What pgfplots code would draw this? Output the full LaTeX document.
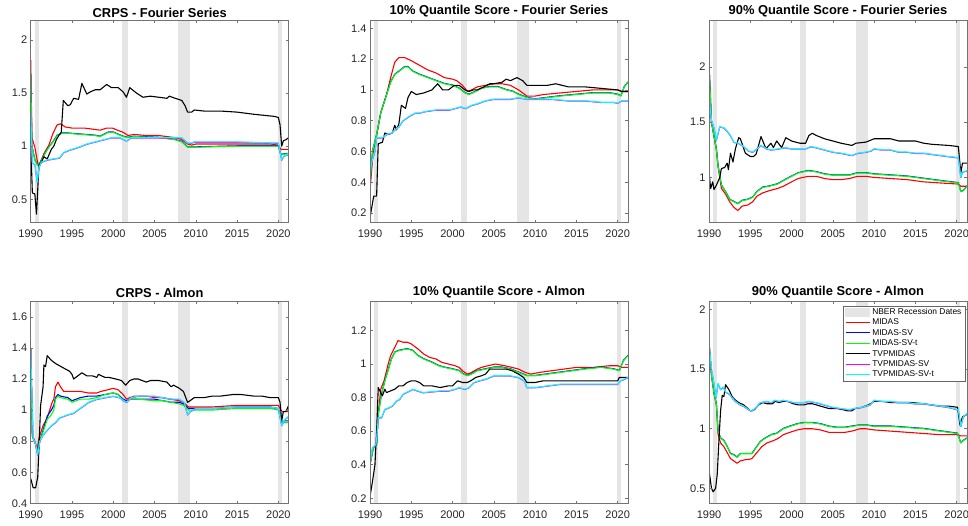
\documentclass[border=0pt]{standalone}
\usepackage{fontspec}
\setmainfont{Liberation Sans}
\usepackage{pgfplots}
\usepackage{pgfplotstable}
\pgfplotsset{compat=1.18}
\definecolor{bandc}{rgb}{0.9,0.9,0.9}
\definecolor{axc}{rgb}{0.15,0.15,0.15}
\definecolor{mgreen}{rgb}{0,1,0}
\definecolor{mred}{rgb}{1,0,0}
\definecolor{mblue}{rgb}{0,0,1}
\definecolor{mcyan}{rgb}{0,1,1}
\definecolor{mmag}{rgb}{1,0,1}

% ---------------- Panel A: CRPS - Fourier Series
\pgfplotstableread[row sep=\\]{x y\\1990 1.81\\1990.15 1.08\\1990.5 0.99\\1990.85 0.84\\1991 0.82\\1991.6 0.93\\1992.2 1.01\\1992.7 1.12\\1993.2 1.2\\1993.6 1.21\\1994.2 1.18\\1995 1.17\\1995.8 1.17\\1996.5 1.17\\1997.5 1.16\\1998.4 1.15\\1999.2 1.17\\1999.9 1.17\\2000.5 1.15\\2001.2 1.13\\2001.8 1.10\\2002.5 1.11\\2004 1.10\\2005.5 1.10\\2006.5 1.09\\2007.5 1.08\\2008 1.07\\2008.5 1.05\\2009 1.02\\2009.5 1.01\\2010 1.02\\2015 1.02\\2019 1.02\\2020 1.01\\2020.3 0.97\\2021.25 0.97\\}\pAr
\pgfplotstableread[row sep=\\]{x y\\1990 1.68\\1990.15 1.0\\1990.5 0.87\\1990.85 0.82\\1991 0.82\\1991.8 0.94\\1992.2 0.99\\1992.7 1.04\\1993.2 1.10\\1993.8 1.12\\1994.6 1.12\\1996.2 1.11\\1997.8 1.10\\1998.4 1.09\\1999.4 1.13\\2000 1.13\\2001.2 1.09\\2001.8 1.08\\2002.5 1.09\\2005.5 1.08\\2007.5 1.06\\2008.3 1.04\\2009 0.99\\2010 0.99\\2015 1.0\\2020 1.0\\2020.3 0.92\\2021.25 0.93\\}\pAg
\pgfplotstableread[row sep=\\]{x y\\1990 1.04\\1990.2 0.56\\1990.5 0.55\\1990.7 0.36\\1991 0.82\\1991.3 0.85\\1991.6 0.9\\1992 0.88\\1992.5 0.97\\1992.8 1.0\\1993.1 1.06\\1993.4 1.1\\1993.7 1.13\\1993.95 1.43\\1994.5 1.38\\1994.8 1.39\\1995.2 1.45\\1995.8 1.44\\1996.2 1.59\\1996.8 1.49\\1997.2 1.51\\1997.8 1.53\\1998.4 1.53\\1999.2 1.58\\1999.8 1.55\\2000.6 1.55\\2001.2 1.51\\2001.6 1.46\\2002 1.55\\2002.8 1.50\\2003.6 1.46\\2004.5 1.47\\2005.5 1.46\\2006.5 1.45\\2006.8 1.47\\2007.5 1.45\\2008.3 1.43\\2008.7 1.38\\2009 1.32\\2009.5 1.32\\2009.8 1.34\\2011 1.33\\2013 1.33\\2015 1.32\\2017 1.30\\2019.5 1.28\\2020 1.27\\2020.2 1.2\\2020.4 1.0\\2020.6 1.05\\2020.9 1.06\\2021.25 1.08\\}\pAk
\pgfplotstableread[row sep=\\]{x y\\1990 1.33\\1990.2 0.84\\1990.5 0.83\\1990.8 0.66\\1991 0.8\\1991.3 0.85\\1992 0.87\\1993.5 0.89\\1994 0.94\\1994.6 0.96\\1995.8 0.99\\1996.8 1.02\\1997.8 1.04\\1998.8 1.06\\1999.8 1.08\\2000.8 1.08\\2001.6 1.05\\2002.2 1.08\\2005.5 1.08\\2007.5 1.08\\2008.3 1.08\\2009 1.03\\2009.5 1.03\\2009.8 1.04\\2015 1.04\\2020 1.03\\2020.4 0.87\\2020.7 0.91\\2021.25 0.92\\}\pAc

% ---------------- Panel B: 10% Quantile Score - Fourier Series
\pgfplotstableread[row sep=\\]{x y\\1990 0.35\\1990.4 0.6\\1990.8 0.7\\1991.3 0.85\\1992 0.97\\1992.6 1.1\\1993 1.18\\1993.5 1.21\\1994.2 1.21\\1995 1.19\\1996 1.16\\1997 1.13\\1998 1.11\\1999 1.08\\2000 1.07\\2000.5 1.06\\2001.2 1.03\\2001.8 0.99\\2002.3 1.0\\2003 1.02\\2004 1.03\\2005 1.04\\2006 1.04\\2007 1.03\\2008 1.0\\2009 0.96\\2010 0.96\\2011 0.97\\2013 0.98\\2015 0.99\\2017 1.0\\2019 1.0\\2020 1.0\\2020.5 0.99\\2021.25 0.99\\}\pBr
\pgfplotstableread[row sep=\\]{x y\\1990 0.38\\1990.3 0.6\\1990.8 0.71\\1991.3 0.85\\1991.9 0.95\\1992.5 1.05\\1993 1.1\\1993.5 1.12\\1994.2 1.15\\1994.6 1.15\\1995.2 1.12\\1996 1.1\\1997 1.08\\1998 1.06\\1999 1.04\\2000 1.03\\2000.8 1.01\\2001.5 0.98\\2002 0.97\\2002.8 0.99\\2003.5 1.01\\2004.5 1.02\\2005.5 1.02\\2006.5 1.0\\2007.3 0.99\\2008 0.97\\2009 0.95\\2010 0.94\\2011.5 0.95\\2013 0.96\\2015 0.97\\2017 0.98\\2019 0.98\\2020 0.97\\2020.4 0.96\\2020.8 1.02\\2021.25 1.05\\}\pBg
\pgfplotstableread[row sep=\\]{x y\\1990 0.17\\1990.45 0.31\\1990.8 0.31\\1991 0.65\\1991.5 0.66\\1991.8 0.72\\1992.2 0.71\\1992.7 0.72\\1993 0.77\\1993.2 0.74\\1993.5 0.78\\1993.8 0.9\\1994.3 0.88\\1994.6 0.95\\1995 0.99\\1995.6 0.97\\1996.5 0.98\\1997.5 1.0\\1998.2 1.04\\1998.8 1.0\\1999.5 1.0\\2000.2 1.03\\2000.8 1.03\\2001.5 1.0\\2002 0.99\\2002.5 1.0\\2003 1.0\\2003.8 1.02\\2004.5 1.04\\2005 1.04\\2006 1.05\\2006.5 1.07\\2007 1.06\\2007.8 1.08\\2008.5 1.06\\2009 1.03\\2010 1.03\\2011.5 1.03\\2012.5 1.04\\2014 1.02\\2016 1.02\\2018 1.01\\2020 1.0\\2020.5 0.99\\2021.25 0.99\\}\pBk
\pgfplotstableread[row sep=\\]{x y\\1990 0.47\\1990.3 0.55\\1990.6 0.6\\1990.8 0.69\\1991.5 0.69\\1992 0.71\\1992.6 0.72\\1993 0.74\\1993.5 0.76\\1994 0.8\\1994.8 0.83\\1995.5 0.85\\1996 0.85\\1996.7 0.86\\1998 0.87\\1999 0.87\\1999.6 0.87\\2000.3 0.88\\2001 0.89\\2001.6 0.88\\2002.3 0.9\\2003 0.91\\2004 0.93\\2005 0.94\\2006 0.94\\2007 0.94\\2008 0.95\\2009 0.94\\2010 0.94\\2012 0.94\\2014 0.93\\2016 0.93\\2018 0.92\\2019.5 0.92\\2020 0.915\\2020.5 0.93\\2021.25 0.93\\}\pBc

% ---------------- Panel C: 90% Quantile Score - Fourier Series
\pgfplotstableread[row sep=\\]{x y\\1990 2.02\\1990.3 1.5\\1990.9 1.25\\1991.1 1.1\\1991.5 0.9\\1992 0.85\\1992.5 0.78\\1993 0.73\\1993.5 0.7\\1994 0.74\\1994.7 0.75\\1995.3 0.78\\1995.8 0.83\\1996.5 0.86\\1997.3 0.88\\1998.3 0.9\\1999 0.92\\2000 0.96\\2000.8 0.99\\2002 1.01\\2003 1.01\\2004 0.99\\2005 0.98\\2006 0.98\\2007 0.99\\2008 1.01\\2009 1.01\\2010 1.0\\2012 0.99\\2014 0.98\\2016 0.96\\2018 0.95\\2020.2 0.94\\2020.5 0.92\\2021.25 0.92\\}\pCr
\pgfplotstableread[row sep=\\]{x y\\1990 2.02\\1990.3 1.5\\1990.9 1.25\\1991.1 1.1\\1991.5 0.93\\1992 0.87\\1992.5 0.8\\1993 0.78\\1993.5 0.76\\1994 0.79\\1994.7 0.8\\1995.3 0.82\\1995.8 0.87\\1996.5 0.91\\1997.3 0.92\\1998.3 0.94\\1999 0.97\\2000 1.01\\2000.8 1.04\\2002 1.06\\2003 1.05\\2004 1.03\\2005 1.02\\2006 1.02\\2007 1.02\\2008 1.04\\2009 1.04\\2010 1.03\\2012 1.02\\2014 1.01\\2016 0.99\\2018 0.97\\2020.2 0.95\\2020.5 0.87\\2020.8 0.88\\2021.25 0.92\\}\pCg
\pgfplotstableread[row sep=\\]{x y\\1990 1.05\\1990.2 0.9\\1990.45 0.96\\1990.6 0.89\\1990.9 0.93\\1991.3 1.0\\1991.5 1.08\\1991.9 1.09\\1992.2 1.13\\1992.35 1.07\\1992.6 1.22\\1992.9 1.14\\1993.2 1.26\\1993.6 1.36\\1993.8 1.35\\1994.4 1.22\\1995 1.19\\1995.4 1.19\\1995.7 1.21\\1996.3 1.37\\1996.9 1.26\\1997.5 1.31\\1997.8 1.27\\1998.2 1.33\\1998.8 1.27\\1999.3 1.36\\2000 1.33\\2001 1.31\\2001.7 1.31\\2002.1 1.38\\2002.5 1.4\\2003 1.38\\2004 1.35\\2005 1.33\\2006 1.31\\2007.3 1.29\\2007.8 1.31\\2009 1.32\\2010 1.35\\2011 1.35\\2012 1.35\\2013 1.33\\2015 1.33\\2016 1.31\\2017 1.30\\2019 1.29\\2020.2 1.28\\2020.5 1.04\\2020.7 1.13\\2021.25 1.13\\}\pCk
\pgfplotstableread[row sep=\\]{x y\\1990 1.72\\1990.3 1.52\\1990.6 1.45\\1990.9 1.34\\1991.3 1.46\\1991.8 1.45\\1992.2 1.42\\1992.6 1.38\\1993 1.32\\1993.6 1.31\\1994.2 1.28\\1994.8 1.24\\1995.3 1.23\\1995.8 1.26\\1996.3 1.29\\1997 1.26\\1997.5 1.25\\1998.5 1.26\\1999.2 1.27\\2000 1.26\\2001 1.26\\2001.7 1.26\\2002.3 1.28\\2003 1.27\\2004 1.25\\2005 1.23\\2006 1.22\\2007.3 1.20\\2008 1.22\\2009 1.23\\2009.6 1.24\\2010 1.26\\2011 1.25\\2012 1.25\\2013 1.23\\2014 1.23\\2015 1.22\\2016 1.22\\2017 1.21\\2018 1.20\\2019 1.19\\2020.2 1.18\\2020.5 1.0\\2020.7 1.05\\2021.25 1.06\\}\pCc

% ---------------- Panel D: CRPS - Almon
\pgfplotstableread[row sep=\\]{x y\\1990 1.4\\1990.2 0.84\\1990.5 0.8\\1990.8 0.75\\1991 0.82\\1991.5 0.9\\1992 0.95\\1992.3 1.0\\1992.6 1.05\\1992.8 1.07\\1993 1.15\\1993.3 1.18\\1993.6 1.15\\1994 1.12\\1995 1.12\\1996 1.12\\1997 1.11\\1998 1.11\\1998.5 1.12\\1999.3 1.13\\2000 1.14\\2000.6 1.13\\2001.2 1.1\\2001.6 1.07\\2002 1.08\\2002.6 1.09\\2004 1.09\\2005 1.08\\2006 1.08\\2007 1.07\\2008 1.06\\2008.5 1.05\\2009.1 1.02\\2010 1.02\\2012 1.02\\2015 1.03\\2019 1.03\\2020 1.03\\2020.3 1.0\\2020.5 0.99\\2021.25 0.99\\}\pDr
\pgfplotstableread[row sep=\\]{x y\\1990 1.39\\1990.2 0.83\\1990.6 0.78\\1990.85 0.72\\1991.1 0.8\\1991.5 0.87\\1992 0.96\\1992.5 1.0\\1992.8 1.03\\1993 1.08\\1993.3 1.10\\1993.6 1.09\\1994.5 1.08\\1995 1.06\\1996 1.08\\1997 1.09\\1998 1.09\\1999 1.1\\2000 1.11\\2000.6 1.1\\2001.2 1.07\\2001.6 1.06\\2002 1.07\\2003 1.07\\2005 1.07\\2006 1.06\\2007 1.05\\2008 1.05\\2008.5 1.04\\2009.1 1.01\\2010 1.01\\2012 1.01\\2015 1.02\\2019 1.02\\2020 1.01\\2020.4 0.92\\2020.7 0.93\\2021.25 0.93\\}\pDb
\pgfplotstableread[row sep=\\]{x y\\1990 1.38\\1990.2 0.83\\1990.6 0.78\\1990.85 0.72\\1991.1 0.8\\1991.5 0.86\\1992 0.94\\1992.5 0.97\\1992.8 1.0\\1993 1.07\\1993.3 1.09\\1993.6 1.08\\1994.5 1.07\\1995 1.05\\1996 1.07\\1997 1.07\\1998 1.08\\1999 1.1\\2000 1.11\\2000.6 1.1\\2001.2 1.06\\2001.6 1.05\\2002 1.07\\2003 1.07\\2005 1.06\\2006 1.06\\2007 1.05\\2008 1.04\\2008.5 1.03\\2009.1 1.0\\2010 1.0\\2012 1.0\\2015 1.01\\2019 1.01\\2020 1.0\\2020.4 0.93\\2020.7 0.92\\2021.25 0.92\\}\pDg
\pgfplotstableread[row sep=\\]{x y\\1990 0.56\\1990.3 0.5\\1990.6 0.5\\1990.85 0.57\\1991 0.75\\1991.2 1.03\\1991.5 1.15\\1991.6 1.29\\1991.8 1.28\\1992 1.35\\1992.5 1.32\\1993 1.3\\1994 1.27\\1994.7 1.25\\1995 1.23\\1995.2 1.2\\1995.7 1.22\\1996.2 1.24\\1996.8 1.22\\1997.5 1.22\\1998 1.21\\1998.2 1.23\\1999 1.21\\1999.5 1.21\\2000.3 1.2\\2001 1.19\\2001.5 1.16\\2002 1.19\\2002.5 1.2\\2003 1.2\\2004 1.18\\2004.5 1.19\\2005.5 1.19\\2006.5 1.18\\2007 1.15\\2007.3 1.16\\2008 1.14\\2008.5 1.12\\2009 1.05\\2009.3 1.06\\2009.8 1.08\\2011 1.08\\2012 1.09\\2013 1.09\\2014.5 1.10\\2015.5 1.10\\2017 1.09\\2018 1.09\\2019 1.08\\2020 1.08\\2020.2 1.05\\2020.4 0.93\\2020.6 0.99\\2020.9 0.99\\2021.25 1.03\\}\pDk
\pgfplotstableread[row sep=\\]{x y\\1990 1.38\\1990.3 0.82\\1990.6 0.78\\1990.85 0.71\\1991.1 0.8\\1991.5 0.84\\1992 0.87\\1992.5 0.9\\1993 0.92\\1993.5 0.95\\1994.5 0.97\\1995.2 0.98\\1995.7 1.0\\1996.5 1.03\\1997 1.05\\1998 1.07\\1999 1.08\\2000 1.09\\2000.8 1.08\\2001.3 1.06\\2001.6 1.05\\2002.2 1.08\\2003 1.09\\2005 1.09\\2006 1.08\\2007 1.07\\2008 1.07\\2008.6 1.05\\2009 0.97\\2009.3 0.99\\2010 1.01\\2012 1.01\\2015 1.02\\2019 1.02\\2020 1.01\\2020.4 0.9\\2020.8 0.94\\2021.25 0.96\\}\pDc

% ---------------- Panel E: 10% Quantile Score - Almon
\pgfplotstableread[row sep=\\]{x y\\1990 0.4\\1990.4 0.5\\1990.8 0.52\\1991 0.7\\1991.3 0.85\\1991.7 0.9\\1992.2 1.0\\1992.5 1.05\\1993 1.1\\1993.4 1.14\\1994 1.13\\1994.5 1.13\\1995 1.12\\1995.8 1.09\\1996.5 1.06\\1997.2 1.04\\1998 1.03\\1998.7 1.01\\1999.5 1.0\\2000.3 0.99\\2000.8 0.98\\2001.2 0.96\\2001.8 0.94\\2002.3 0.95\\2003 0.97\\2003.5 0.98\\2004.3 0.99\\2005.2 1.0\\2006.3 0.99\\2007.2 0.98\\2008 0.97\\2008.8 0.95\\2009.5 0.94\\2010.5 0.95\\2012 0.96\\2013.5 0.97\\2015 0.98\\2017 0.98\\2019 0.99\\2020 0.99\\2020.5 0.98\\2021.25 0.98\\}\pEr
\pgfplotstableread[row sep=\\]{x y\\1990 0.4\\1990.4 0.5\\1990.8 0.52\\1991 0.7\\1991.4 0.82\\1991.8 0.9\\1992.3 0.98\\1992.6 1.03\\1993 1.07\\1993.5 1.08\\1994.5 1.09\\1995.2 1.08\\1995.8 1.05\\1996.5 1.03\\1997.5 1.01\\1998.3 0.99\\1999 0.98\\2000 0.97\\2000.8 0.96\\2001.3 0.94\\2001.8 0.93\\2002.3 0.94\\2003 0.96\\2004 0.97\\2005 0.98\\2006 0.98\\2007 0.97\\2008 0.95\\2009 0.93\\2010 0.93\\2011.5 0.94\\2013 0.95\\2014.5 0.96\\2016 0.97\\2018 0.98\\2019.5 0.97\\2020.2 0.96\\2020.7 1.02\\2021.25 1.05\\}\pEg
\pgfplotstableread[row sep=\\]{x y\\1990 0.21\\1990.3 0.3\\1990.6 0.4\\1990.8 0.6\\1991 0.86\\1991.2 0.84\\1991.5 0.81\\1991.8 0.85\\1992 0.83\\1992.5 0.84\\1993 0.85\\1993.5 0.87\\1994 0.87\\1994.5 0.89\\1995 0.9\\1995.5 0.9\\1996 0.89\\1996.5 0.87\\1997.5 0.87\\1998.5 0.86\\1999.5 0.87\\2000 0.87\\2000.6 0.9\\2001.2 0.89\\2001.8 0.89\\2002.2 0.9\\2002.8 0.92\\2003.5 0.93\\2004 0.94\\2004.5 0.97\\2005.5 0.97\\2006.5 0.97\\2007.2 0.96\\2008 0.94\\2008.6 0.92\\2009 0.89\\2010 0.89\\2011 0.9\\2012 0.9\\2013 0.9\\2015 0.9\\2017 0.9\\2019 0.9\\2020 0.9\\2020.2 0.92\\2020.8 0.92\\2021.25 0.92\\}\pEk
\pgfplotstableread[row sep=\\]{x y\\1990 0.42\\1990.3 0.5\\1990.7 0.52\\1990.8 0.55\\1991 0.68\\1991.4 0.68\\1991.8 0.73\\1992.3 0.74\\1992.7 0.75\\1993.2 0.78\\1993.6 0.79\\1994 0.82\\1994.8 0.84\\1995.2 0.85\\1995.8 0.84\\1996.4 0.83\\1997.5 0.835\\1998.5 0.84\\1999.5 0.84\\2000.3 0.85\\2000.8 0.86\\2001.5 0.85\\2002 0.86\\2002.6 0.89\\2003.2 0.9\\2004 0.91\\2005 0.93\\2006 0.93\\2007 0.93\\2008 0.92\\2008.7 0.9\\2009 0.86\\2010 0.86\\2011.5 0.87\\2013 0.88\\2015 0.88\\2017 0.88\\2019 0.88\\2020 0.88\\2020.3 0.9\\2020.8 0.91\\2021.25 0.92\\}\pEc

% ---------------- Panel F: 90% Quantile Score - Almon
\pgfplotstableread[row sep=\\]{x y\\1990 1.72\\1990.3 1.45\\1990.6 1.3\\1990.9 1.2\\1991.1 0.95\\1991.4 0.88\\1991.8 0.85\\1992.2 0.8\\1992.6 0.75\\1993 0.73\\1993.4 0.71\\1993.8 0.73\\1994.4 0.74\\1995 0.745\\1995.2 0.75\\1995.8 0.8\\1996.4 0.85\\1997 0.88\\1997.8 0.9\\1998.4 0.92\\1999 0.95\\1999.8 0.97\\2000.7 0.99\\2001.5 1.0\\2002.5 1.0\\2003.5 0.99\\2004.5 0.97\\2005.5 0.97\\2006.5 0.97\\2007.3 0.98\\2008.3 1.0\\2009 1.0\\2010 0.99\\2012 0.98\\2014 0.97\\2016 0.96\\2018 0.95\\2020 0.95\\2020.5 0.94\\2021.25 0.94\\}\pFr
\pgfplotstableread[row sep=\\]{x y\\1990 1.72\\1990.3 1.45\\1990.6 1.3\\1990.9 1.2\\1991.1 0.98\\1991.4 0.92\\1991.8 0.9\\1992.2 0.85\\1992.6 0.79\\1993 0.78\\1993.4 0.76\\1993.8 0.79\\1994.4 0.79\\1995.2 0.79\\1995.6 0.83\\1996.2 0.89\\1996.8 0.92\\1997.6 0.95\\1998.2 0.96\\1999 1.0\\1999.8 1.02\\2000.7 1.04\\2001.5 1.05\\2002.5 1.05\\2003.5 1.04\\2004.5 1.02\\2005.5 1.01\\2006.5 1.01\\2007.3 1.02\\2008.3 1.03\\2009 1.03\\2010 1.02\\2012 1.02\\2014 1.01\\2016 1.0\\2018 0.98\\2020.1 0.96\\2020.5 0.88\\2020.8 0.9\\2021.25 0.92\\}\pFg
\pgfplotstableread[row sep=\\]{x y\\1990 0.65\\1990.3 0.5\\1990.5 0.47\\1990.8 0.5\\1991 0.62\\1991.2 0.9\\1991.4 1.15\\1991.6 1.28\\1991.8 1.27\\1992 1.37\\1992.4 1.33\\1992.8 1.27\\1993.2 1.24\\1993.6 1.22\\1994.2 1.2\\1994.7 1.17\\1995 1.15\\1995.5 1.16\\1996 1.2\\1996.5 1.22\\1997 1.21\\1997.7 1.21\\1998 1.23\\1998.5 1.22\\1999 1.23\\1999.5 1.23\\2000.2 1.21\\2000.8 1.2\\2001.5 1.2\\2002 1.21\\2002.5 1.21\\2003.5 1.19\\2004.5 1.17\\2005.5 1.17\\2006.2 1.16\\2006.8 1.15\\2007.3 1.15\\2007.7 1.17\\2008.5 1.18\\2009.3 1.2\\2010 1.23\\2011 1.23\\2012 1.22\\2013 1.22\\2014.5 1.22\\2016 1.21\\2017 1.2\\2018 1.19\\2019 1.19\\2020.1 1.18\\2020.4 1.03\\2020.7 1.1\\2021.25 1.12\\}\pFk
\pgfplotstableread[row sep=\\]{x y\\1990 1.72\\1990.3 1.5\\1990.6 1.38\\1990.85 1.26\\1991.1 1.38\\1991.4 1.33\\1991.7 1.35\\1992 1.31\\1992.5 1.29\\1992.8 1.26\\1993.2 1.23\\1993.8 1.2\\1994.2 1.19\\1994.8 1.16\\1995.2 1.15\\1995.7 1.18\\1996.2 1.22\\1997 1.23\\1997.5 1.22\\1998 1.24\\1998.5 1.23\\1999 1.24\\1999.6 1.23\\2000.3 1.22\\2001 1.22\\2001.5 1.22\\2002 1.23\\2003 1.22\\2004 1.2\\2005 1.18\\2006 1.17\\2007 1.16\\2007.5 1.17\\2008.5 1.18\\2009.5 1.2\\2010 1.24\\2011 1.23\\2012 1.23\\2013 1.22\\2014 1.22\\2015 1.21\\2016 1.21\\2017 1.2\\2018 1.19\\2019 1.18\\2020.2 1.16\\2020.5 1.02\\2020.8 1.1\\2021.25 1.13\\}\pFc

\pgfplotsset{
  panel/.style={
    scale only axis, width=258pt, height=202pt,
    xmin=1990, xmax=2021.25,
    xtick={1990,1995,2000,2005,2010,2015,2020},
    /pgf/number format/assume math mode=true,
    /pgf/number format/1000 sep={},
    tick label style={font=\fontsize{11}{12}\selectfont, text=axc},
    xticklabel style={yshift=-4pt},
    title style={font=\bfseries\fontsize{12.9}{14}\selectfont, at={(0.5,1)}, anchor=south, yshift=-6pt},
    axis line style={draw=black!55, line width=0.5pt},
    major tick style={draw=black!55, line width=0.5pt},
    tick align=inside, major tick length=2.6pt,
    axis on top,
    every axis plot/.append style={line width=1.1pt, line join=round},
  },
  sr/.style={mred},
  sb/.style={mblue, yshift=0.35pt},
  sg/.style={mgreen},
  sk/.style={black},
  sm/.style={mmag, yshift=-0.35pt},
  sc/.style={mcyan},
}

\newcommand{\bands}{%
  \addplot[fill=bandc, draw=none, forget plot] coordinates {(1990.5,-5) (1991,-5) (1991,5) (1990.5,5)} -- cycle;
  \addplot[fill=bandc, draw=none, forget plot] coordinates {(2001,-5) (2001.75,-5) (2001.75,5) (2001,5)} -- cycle;
  \addplot[fill=bandc, draw=none, forget plot] coordinates {(2007.8,-5) (2009.3,-5) (2009.3,5) (2007.8,5)} -- cycle;
  \addplot[fill=bandc, draw=none, forget plot] coordinates {(2019.95,-5) (2020.45,-5) (2020.45,5) (2019.95,5)} -- cycle;
}

\begin{document}
\begin{tikzpicture}
\path[use as bounding box] (0pt,0pt) rectangle (968pt,525pt);

% Panel A
\begin{axis}[panel, at={(30.7pt,302.3pt)}, anchor=south west,
  title={CRPS - Fourier Series}, ymin=0.28, ymax=2.18, ytick={0.5,1,1.5,2}]
\bands
\addplot[sr] table {\pAr};
\addplot[sb] table {\pAg};
\addplot[sg] table {\pAg};
\addplot[sk] table {\pAk};
\addplot[sm] table {\pAc};
\addplot[sc] table {\pAc};
\end{axis}

% Panel B
\begin{axis}[panel, at={(370pt,302.3pt)}, anchor=south west,
  title={10\% Quantile Score - Fourier Series}, ymin=0.137, ymax=1.45, ytick={0.2,0.4,0.6,0.8,1,1.2,1.4}]
\bands
\addplot[sr] table {\pBr};
\addplot[sb] table {\pBg};
\addplot[sg] table {\pBg};
\addplot[sk] table {\pBk};
\addplot[sm] table {\pBc};
\addplot[sc] table {\pBc};
\end{axis}

% Panel C
\begin{axis}[panel, at={(709pt,302.3pt)}, anchor=south west,
  title={90\% Quantile Score - Fourier Series}, ymin=0.59, ymax=2.42, ytick={1,1.5,2}]
\bands
\addplot[sr] table {\pCr};
\addplot[sb] table {\pCg};
\addplot[sg] table {\pCg};
\addplot[sk] table {\pCk};
\addplot[sm] table {\pCc};
\addplot[sc] table {\pCc};
\end{axis}

% Panel D
\begin{axis}[panel, at={(30.7pt,21.7pt)}, anchor=south west,
  title={CRPS - Almon}, ymin=0.4, ymax=1.70, ytick={0.4,0.6,0.8,1,1.2,1.4,1.6}]
\bands
\addplot[sr] table {\pDr};
\addplot[mblue] table {\pDb};
\addplot[sg] table {\pDg};
\addplot[sk] table {\pDk};
\addplot[sm] table {\pDc};
\addplot[sc] table {\pDc};
\end{axis}

% Panel E
\begin{axis}[panel, at={(370pt,21.7pt)}, anchor=south west,
  title={10\% Quantile Score - Almon}, ymin=0.17, ymax=1.374, ytick={0.2,0.4,0.6,0.8,1,1.2}]
\bands
\addplot[sr] table {\pEr};
\addplot[sb] table {\pEg};
\addplot[sg] table {\pEg};
\addplot[sk] table {\pEk};
\addplot[sm] table {\pEc};
\addplot[sc] table {\pEc};
\end{axis}

% Panel F
\begin{axis}[panel, at={(709pt,21.7pt)}, anchor=south west,
  title={90\% Quantile Score - Almon}, ymin=0.374, ymax=2.07, ytick={0.5,1,1.5,2},
  legend style={at={(rel axis cs:0.993,0.978)}, anchor=north east,
    font=\fontsize{8.4}{9}\selectfont, draw=black!60, line width=0.5pt, fill=white,
    inner xsep=1.5pt, inner ysep=1pt, row sep=0pt,
    nodes={inner xsep=2pt, inner ysep=1.5pt},
    cells={anchor=west}},
  legend image code/.code={\draw[#1, line width=1.2pt, yshift=0pt] (0pt,0pt) -- (24pt,0pt);},
  legend entries={NBER Recession Dates, MIDAS, MIDAS-SV, MIDAS-SV-t, TVPMIDAS, TVPMIDAS-SV, TVPMIDAS-SV-t}]
\addlegendimage{legend image code/.code={\fill[bandc] (0pt,-4pt) rectangle (24pt,4pt);}}
\bands
\addplot[sr] table {\pFr};
\addplot[sb] table {\pFg};
\addplot[sg] table {\pFg};
\addplot[sk] table {\pFk};
\addplot[sm] table {\pFc};
\addplot[sc] table {\pFc};
\end{axis}
\end{tikzpicture}
\end{document}
